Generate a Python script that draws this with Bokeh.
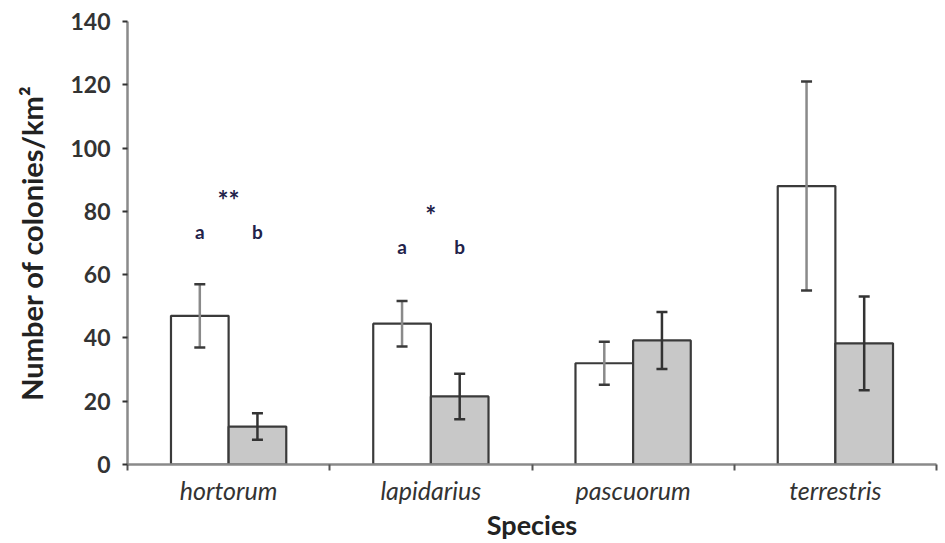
from bokeh.plotting import figure
from bokeh.models import FixedTicker, Range1d, ColumnDataSource, Whisker, LabelSet
from bokeh.core.properties import value
from bokeh.embed import file_html
from bokeh.resources import INLINE

# Bumblebee nest density per species, two habitat groups
species = ["hortorum", "lapidarius", "pascuorum", "terrestris"]
white_mean = [47, 44.5, 32, 88]
white_err = [10, 7.2, 6.8, 33]
grey_mean = [12, 21.5, 39.2, 38.3]
grey_err = [4.2, 7.2, 9, 14.8]

# significance markers
sig_species = ["hortorum", "lapidarius"]
sig_stars = ["**", "*"]
sig_star_y = [83.5, 79]
sig_letter_y = [73.5, 69]

y_ticks = [0, 20, 40, 60, 80, 100, 120, 140]

FONT = "Lato"
DARK = "#333333"

centers = [i + 0.5 for i in range(len(species))]
bar_w = 0.285
off = 0.1425

p = figure(width=945, height=543, output_backend="svg", toolbar_location=None,
           x_range=Range1d(0, len(species)), y_range=Range1d(0, 140),
           min_border_left=127, min_border_right=9, min_border_top=21,
           min_border_bottom=78)
p.outline_line_color = None
p.xgrid.visible = False
p.ygrid.visible = False

src = ColumnDataSource(dict(
    xw=[c - off for c in centers], xg=[c + off for c in centers],
    wm=white_mean, gm=grey_mean,
    wl=[m - e for m, e in zip(white_mean, white_err)],
    wu=[m + e for m, e in zip(white_mean, white_err)],
    gl=[m - e for m, e in zip(grey_mean, grey_err)],
    gu=[m + e for m, e in zip(grey_mean, grey_err)],
))

p.vbar(x="xw", top="wm", bottom=0, width=bar_w, source=src,
       fill_color="white", line_color="#3a3a3a", line_width=2.2)
p.vbar(x="xg", top="gm", bottom=0, width=bar_w, source=src,
       fill_color="#c8c8c8", line_color="#3a3a3a", line_width=2.2)


def error_bars(base, lower, upper, stem_color, cap_color):
    w = Whisker(base=base, lower=lower, upper=upper, source=src,
                line_color=stem_color, line_width=2.5, level="overlay")
    for head in (w.upper_head, w.lower_head):
        head.size = 11
        head.line_color = cap_color
        head.line_width = 2.5
    p.add_layout(w)


error_bars("xw", "wl", "wu", "#8a8a8a", "#3a3a3a")
error_bars("xg", "gl", "gu", "#333333", "#333333")

# significance letters and stars
idx = [species.index(s) for s in sig_species]
stars = ColumnDataSource(dict(
    x=[centers[i] for i in idx], y=sig_star_y, t=sig_stars,
))
letters = ColumnDataSource(dict(
    x=[centers[i] - off for i in idx] + [centers[i] + off for i in idx],
    y=sig_letter_y + sig_letter_y,
    t=["a"] * len(idx) + ["b"] * len(idx),
))
p.add_layout(LabelSet(x="x", y="y", text="t", source=letters,
                      text_align="center", text_baseline="middle",
                      text_font=value(FONT), text_font_style="bold",
                      text_font_size="19px", text_color="#22224a"))
p.add_layout(LabelSet(x="x", y="y", text="t", source=stars,
                      text_align="center", text_baseline="middle",
                      text_font=value(FONT), text_font_style="bold",
                      text_font_size="26px", text_color="#22224a"))

# y axis
ya = p.yaxis[0]
ya.ticker = FixedTicker(ticks=y_ticks)
ya.axis_line_color = "#8a8a8a"
ya.axis_line_width = 2.5
ya.major_tick_line_color = DARK
ya.major_tick_line_width = 2
ya.major_tick_out = 5
ya.major_tick_in = 0
ya.minor_tick_line_color = None
ya.major_label_text_font = FONT
ya.major_label_text_font_style = "bold"
ya.major_label_text_font_size = "23px"
ya.major_label_text_color = DARK
ya.major_label_standoff = 12
ya.axis_label = "Number of colonies/km²"
ya.axis_label_text_font = FONT
ya.axis_label_text_font_style = "bold"
ya.axis_label_text_font_size = "29px"
ya.axis_label_text_color = "#222222"
ya.axis_label_standoff = 18

# x axis: names at centres, tick marks at group boundaries
xa = p.xaxis[0]
xa.ticker = FixedTicker(ticks=centers, minor_ticks=list(range(len(species) + 1)))
xa.major_label_overrides = {c: s for c, s in zip(centers, species)}
xa.axis_line_color = "#8a8a8a"
xa.axis_line_width = 2.5
xa.major_tick_line_color = None
xa.major_tick_out = 0
xa.minor_tick_line_color = "#555555"
xa.minor_tick_line_width = 2
xa.minor_tick_out = 6
xa.minor_tick_in = 0
xa.major_label_text_font = FONT
xa.major_label_text_font_style = "italic"
xa.major_label_text_font_size = "25px"
xa.major_label_text_color = DARK
xa.major_label_standoff = 4
xa.axis_label = "Species"
xa.axis_label_text_font = FONT
xa.axis_label_text_font_style = "bold"
xa.axis_label_text_font_size = "27px"
xa.axis_label_text_color = "#222222"
xa.axis_label_standoff = 0

open("out.html", "w").write(file_html(p, INLINE))
